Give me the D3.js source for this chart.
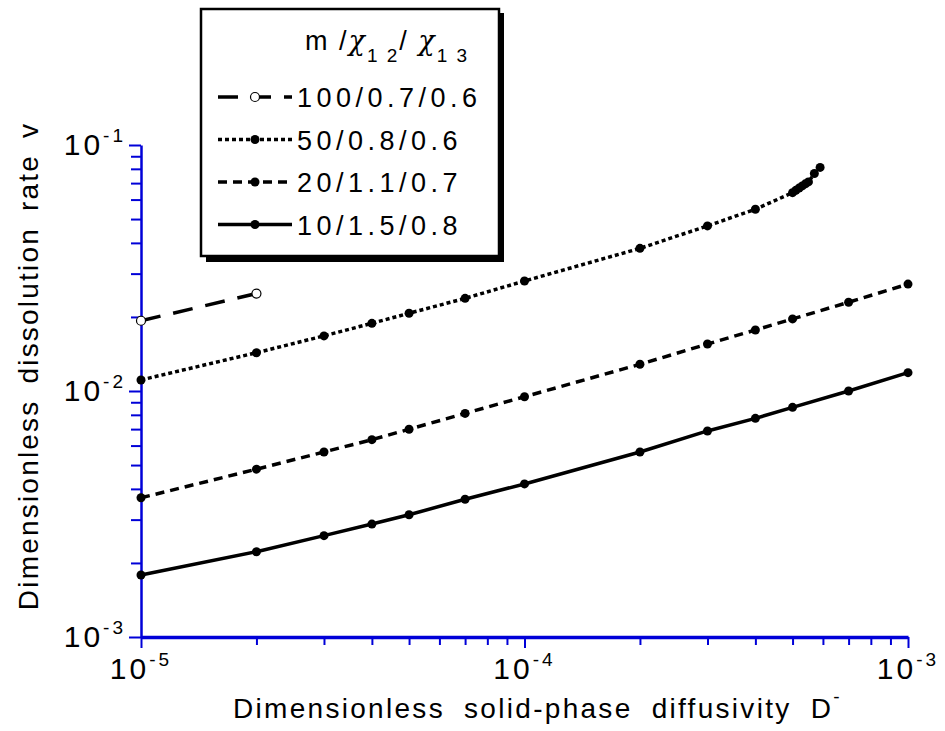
<!DOCTYPE html>
<html>
<head>
<meta charset="utf-8">
<script src="https://cdn.jsdelivr.net/npm/d3@7"></script>
<style>
  body { margin: 0; background: #fff; }
  svg { font-family: "Liberation Sans", Arial, sans-serif; }
</style>
</head>
<body>
<div id="chart"></div>
<script>
// dimensionless solid-phase diffusivity (x)
const xVals = [1e-5, 2e-5, 3e-5, 4e-5, 5e-5, 7e-5, 1e-4, 2e-4, 3e-4, 4e-4, 5e-4, 7e-4, 1e-3];
// m/chi12/chi13 = 10/1.5/0.8
const v10 = [1.786e-3, 2.222e-3, 2.582e-3, 2.878e-3, 3.14e-3, 3.63e-3, 4.19e-3, 5.65e-3, 6.88e-3, 7.74e-3, 8.58e-3, 1.0e-2, 1.187e-2];
// 20/1.1/0.7
const v20 = [3.68e-3, 4.81e-3, 5.65e-3, 6.34e-3, 6.99e-3, 8.11e-3, 9.48e-3, 1.284e-2, 1.552e-2, 1.77e-2, 1.963e-2, 2.295e-2, 2.72e-2];
// 50/0.8/0.6 (stops near 6e-4)
const x50 = [1e-5, 2e-5, 3e-5, 4e-5, 5e-5, 7e-5, 1e-4, 2e-4, 3e-4, 4e-4, 5.0e-4, 5.1e-4, 5.2e-4, 5.3e-4, 5.4e-4, 5.5e-4, 5.7e-4, 5.9e-4];
const v50 = [1.109e-2, 1.431e-2, 1.675e-2, 1.884e-2, 2.07e-2, 2.38e-2, 2.80e-2, 3.80e-2, 4.69e-2, 5.48e-2, 6.40e-2, 6.54e-2, 6.68e-2, 6.82e-2, 6.95e-2, 7.08e-2, 7.66e-2, 8.11e-2];
// 100/0.7/0.6
const x100 = [1e-5, 2e-5];
const v100 = [1.93e-2, 2.49e-2];

const xTickExps = [-5, -4, -3];
const yTickExps = [-3, -2, -1];
const legendLabels = ['100/0.7/0.6', '50/0.8/0.6', '20/1.1/0.7', '10/1.5/0.8'];

const width = 945, height = 731;
const axisColor = '#0000d8';

const svg = d3.select('#chart')
   .append('svg')
   .attr('width', width)
   .attr('height', height);

const xScale = d3.scaleLog().domain([1e-5, 1e-3]).range([141, 908]);
const yScale = d3.scaleLog().domain([1e-3, 1e-1]).range([637, 145]);

// series definitions: data + line style
const series = [
   { xs: x100, ys: v100, dash: '20,13', open: true },
   { xs: x50, ys: v50, dash: '4,3', open: false },
   { xs: xVals, ys: v20, dash: '9,6', open: false },
   { xs: xVals, ys: v10, dash: null, open: false }
];

const line = d3.line()
   .x(d => xScale(d[0]))
   .y(d => yScale(d[1]));

const isDecade = d => Math.abs(Math.log10(d) - Math.round(Math.log10(d))) < 1e-9;

// axes
const xAxis = d3.axisBottom(xScale)
   .tickValues(d3.range(-5, -3).flatMap(e => d3.range(1, 10).map(k => k * Math.pow(10, e))).concat([1e-3]))
   .tickFormat('')
   .tickSizeOuter(0);
const gx = svg.append('g')
   .attr('transform', 'translate(0,637)')
   .call(xAxis);
gx.select('.domain').attr('stroke', axisColor).attr('stroke-width', 3.5);
gx.selectAll('.tick line')
   .attr('stroke', axisColor)
   .attr('stroke-width', 2)
   .attr('y2', d => isDecade(d) ? 11 : 8);

const yAxis = d3.axisLeft(yScale)
   .tickValues(d3.range(-3, -1).flatMap(e => d3.range(1, 10).map(k => k * Math.pow(10, e))).concat([1e-1]))
   .tickFormat('')
   .tickSizeOuter(0);
const gy = svg.append('g')
   .attr('transform', 'translate(141,0)')
   .call(yAxis);
gy.select('.domain').attr('stroke', axisColor).attr('stroke-width', 2.5);
gy.selectAll('.tick line')
   .attr('stroke', axisColor)
   .attr('stroke-width', 2)
   .attr('x2', d => isDecade(d) ? -12 : -10);

// tick labels as 10^n
xTickExps.forEach(e => {
   const t = svg.append('text')
      .attr('x', xScale(Math.pow(10, e)))
      .attr('y', 679)
      .attr('text-anchor', 'middle')
      .style('font-size', '30px')
      .style('letter-spacing', '3px');
   t.append('tspan').text('10');
   t.append('tspan').attr('dy', -13).style('font-size', '19px').text(e);
});
yTickExps.forEach(e => {
   const t = svg.append('text')
      .attr('x', 126)
      .attr('y', yScale(Math.pow(10, e)) + 10)
      .attr('text-anchor', 'end')
      .style('font-size', '30px')
      .style('letter-spacing', '3px');
   t.append('tspan').text('10');
   t.append('tspan').attr('dy', -13).style('font-size', '19px').text(e);
});

// axis titles
const xt = svg.append('text')
   .attr('x', 233)
   .attr('y', 718)
   .style('font-size', '28px')
   .style('letter-spacing', '2.3px')
   .style('word-spacing', '9px');
xt.append('tspan').text('Dimensionless solid-phase diffusivity D');
xt.append('tspan').attr('dy', -15).style('font-size', '19px').text('-');

svg.append('text')
   .attr('transform', 'translate(38,366) rotate(-90)')
   .attr('text-anchor', 'middle')
   .style('font-size', '28px')
   .style('letter-spacing', '2.2px')
   .style('word-spacing', '6px')
   .text('Dimensionless dissolution rate v');

// lines and markers
series.forEach(s => {
   const pts = s.xs.map((x, i) => [x, s.ys[i]]);
   svg.append('path')
      .datum(pts)
      .attr('d', line)
      .attr('fill', 'none')
      .attr('stroke', '#000')
      .attr('stroke-width', 3.5)
      .attr('stroke-dasharray', s.dash);
   svg.selectAll(null)
      .data(pts)
      .enter()
      .append('circle')
      .attr('cx', d => xScale(d[0]))
      .attr('cy', d => yScale(d[1]))
      .attr('r', 4.5)
      .attr('fill', s.open ? '#fff' : '#000')
      .attr('stroke', '#000')
      .attr('stroke-width', s.open ? 1.2 : 0);
});

// legend
const lg = svg.append('g');
lg.append('rect')
   .attr('x', 206).attr('y', 13)
   .attr('width', 298).attr('height', 249)
   .attr('fill', '#000');
lg.append('rect')
   .attr('x', 201).attr('y', 9)
   .attr('width', 298).attr('height', 247)
   .attr('fill', '#fff')
   .attr('stroke', '#000')
   .attr('stroke-width', 2.5);

const head = lg.append('text')
   .attr('x', 305)
   .attr('y', 50)
   .style('font-size', '27px')
   .style('letter-spacing', '2px');
head.append('tspan').text('m /');
head.append('tspan').style('font-family', '"DejaVu Serif", serif').style('font-style', 'italic').text('χ');
head.append('tspan').attr('dy', 12).style('font-size', '19px').text('1 2');
head.append('tspan').attr('dy', -12).text('/ ');
head.append('tspan').style('font-family', '"DejaVu Serif", serif').style('font-style', 'italic').text('χ');
head.append('tspan').attr('dy', 12).style('font-size', '19px').text('1 3');

legendLabels.forEach((lab, i) => {
   const s = series[i];
   const ly = 97 + i * 42.5;
   lg.append('line')
      .attr('x1', 218).attr('x2', 292)
      .attr('y1', ly).attr('y2', ly)
      .attr('stroke', '#000')
      .attr('stroke-width', 3.5)
      .attr('stroke-dasharray', s.dash);
   lg.append('circle')
      .attr('cx', 255).attr('cy', ly)
      .attr('r', 4.5)
      .attr('fill', s.open ? '#fff' : '#000')
      .attr('stroke', '#000')
      .attr('stroke-width', s.open ? 1.2 : 0);
   lg.append('text')
      .attr('x', 297)
      .attr('y', ly + 10)
      .style('font-size', '27px')
      .style('letter-spacing', '4.5px')
      .text(lab);
});
</script>
</body>
</html>
